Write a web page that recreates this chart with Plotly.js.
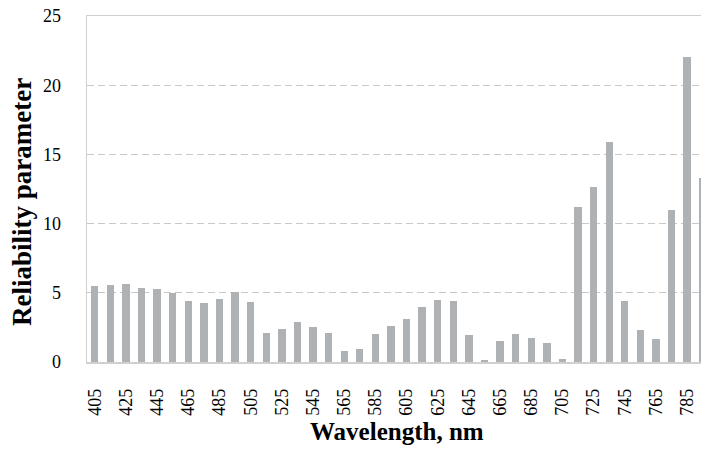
<!DOCTYPE html>
<html>
<head>
<meta charset="utf-8">
<script src="https://cdn.plot.ly/plotly-3.0.1.min.js"></script>
<style>html,body{margin:0;padding:0;background:#fff;}#chart{width:701px;height:449px;}</style>
</head>
<body>
<div id="chart"></div>
<script>
const wavelengths = [405,415,425,435,445,455,465,475,485,495,505,515,525,535,545,555,565,575,585,595,605,615,625,635,645,655,665,675,685,695,705,715,725,735,745,755,765,775,785,795];
const reliability = [5.50,5.57,5.62,5.35,5.28,4.95,4.39,4.29,4.56,5.06,4.32,2.10,2.39,2.92,2.53,2.10,0.77,0.97,2.02,2.58,3.11,3.96,4.48,4.41,1.95,0.12,1.50,2.05,1.71,1.40,0.24,11.19,12.61,15.91,4.41,2.29,1.69,10.99,22.03,13.33];
const xTickVals = [405,425,445,465,485,505,525,545,565,585,605,625,645,665,685,705,725,745,765,785];
const xTickText = xTickVals.map(String);
const yTickVals = [0,5,10,15,20,25];

const serif = 'Liberation Serif';

Plotly.newPlot('chart', [{
  type: 'bar',
  x: wavelengths,
  y: reliability,
  width: 4.7,
  marker: {color: '#afb2b5', line: {width: 0}},
  hoverinfo: 'x+y'
}], {
  width: 701,
  height: 449,
  margin: {l: 87, r: 0, t: 16, b: 87, pad: 0},
  paper_bgcolor: '#ffffff',
  plot_bgcolor: '#ffffff',
  showlegend: false,
  bargap: 0,
  font: {family: serif},
  xaxis: {
    type: 'linear',
    range: [400, 793.9],
    tickvals: xTickVals,
    ticktext: xTickText,
    tickangle: -90,
    ticks: '',
    ticklabelstandoff: 18,
    showgrid: false,
    zeroline: false,
    showline: true,
    mirror: true,
    linecolor: '#d0d0d0',
    linewidth: 1.5,
    tickfont: {family: serif, size: 18, color: '#000000'},
    fixedrange: true
  },
  yaxis: {
    range: [0, 25],
    tickvals: yTickVals,
    ticks: '',
    ticklabelstandoff: 21,
    showgrid: true,
    gridcolor: '#c8c8c8',
    gridwidth: 1.3,
    griddash: '7px,4px',
    zeroline: false,
    showline: true,
    linecolor: '#d0d0d0',
    linewidth: 1.5,
    tickfont: {family: serif, size: 18, color: '#000000'},
    fixedrange: true
  },
  annotations: [
    {
      text: '<b>Wavelength, nm</b>',
      xref: 'paper', yref: 'paper',
      x: 0.505, y: 0, yshift: -69,
      xanchor: 'center', yanchor: 'middle',
      showarrow: false,
      font: {family: serif, size: 25, color: '#000000'}
    },
    {
      text: '<b>Reliability parameter</b>',
      xref: 'paper', yref: 'paper',
      x: 0, xshift: -65, y: 0.5, yshift: -13,
      xanchor: 'center', yanchor: 'middle',
      textangle: -90,
      showarrow: false,
      font: {family: serif, size: 27, color: '#000000'}
    }
  ]
}, {staticPlot: true, displayModeBar: false});
</script>
</body>
</html>
